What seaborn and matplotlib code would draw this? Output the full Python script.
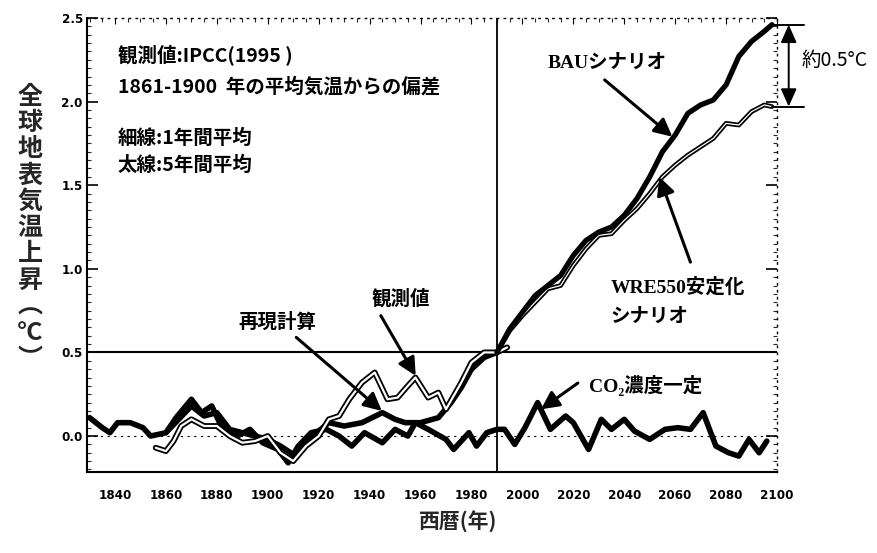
import matplotlib
matplotlib.use("Agg")
import matplotlib.pyplot as plt
import matplotlib.ticker as mticker
import numpy as np
import pandas as pd
import seaborn as sns

# ---- data: global surface temperature rise (deg C, relative to 1861-1900 mean) ----
obs_years = [1856, 1860, 1863, 1866, 1870, 1875, 1880, 1885, 1890, 1895, 1900, 1905,
             1910, 1915, 1920, 1924, 1928, 1932, 1937, 1942, 1947, 1951, 1955, 1958,
             1963, 1967, 1970, 1976, 1980, 1985, 1990, 1994]
obs_vals = [-0.07, -0.09, -0.03, 0.06, 0.10, 0.06, 0.06, 0.00, -0.04, -0.03, 0.00, -0.10,
            -0.15, -0.06, 0.00, 0.10, 0.12, 0.22, 0.32, 0.38, 0.22, 0.23, 0.30, 0.35,
            0.23, 0.26, 0.16, 0.32, 0.44, 0.50, 0.50, 0.53]

repro_years = [1860, 1865, 1870, 1875, 1880, 1885, 1890, 1895, 1900, 1905, 1910, 1915,
               1920, 1924, 1930, 1937, 1945, 1950, 1954, 1960, 1967, 1972, 1976, 1980,
               1985, 1990]
repro_vals = [0.02, 0.10, 0.18, 0.12, 0.14, 0.04, 0.02, 0.00, -0.02, -0.06, -0.11, -0.02,
              0.03, 0.08, 0.06, 0.08, 0.14, 0.10, 0.08, 0.08, 0.11, 0.20, 0.29, 0.40,
              0.47, 0.50]

ctrl_years = [1830, 1835, 1838, 1841, 1846, 1851, 1854, 1860, 1864, 1870, 1874, 1878,
              1882, 1888, 1893, 1898, 1904, 1908, 1912, 1917, 1923, 1928, 1933, 1938,
              1945, 1950, 1955, 1958, 1963, 1970, 1973, 1979, 1982, 1986, 1990, 1993,
              1997, 2001, 2006, 2011, 2017, 2020, 2026, 2031, 2035, 2040, 2044, 2050,
              2056, 2061, 2066, 2071, 2076, 2081, 2085, 2089, 2093, 2096]
ctrl_vals = [0.11, 0.05, 0.02, 0.08, 0.08, 0.05, 0.00, 0.02, 0.11, 0.22, 0.14, 0.18,
             0.05, 0.00, 0.04, -0.04, -0.08, -0.16, -0.06, 0.02, 0.04, 0.00, -0.06, 0.02,
             -0.04, 0.04, 0.00, 0.08, 0.04, -0.02, -0.08, 0.02, -0.06, 0.02, 0.04, 0.04,
             -0.05, 0.05, 0.20, 0.04, 0.12, 0.08, -0.08, 0.10, 0.04, 0.10, 0.03, -0.02,
             0.04, 0.05, 0.04, 0.14, -0.06, -0.10, -0.12, -0.02, -0.10, -0.03]

bau_years = [1990, 1995, 2000, 2005, 2010, 2015, 2020, 2025, 2030, 2035, 2040, 2045,
             2050, 2055, 2060, 2065, 2070, 2075, 2080, 2085, 2090, 2095, 2098]
bau_vals = [0.50, 0.64, 0.74, 0.84, 0.90, 0.96, 1.08, 1.17, 1.22, 1.25, 1.32, 1.42,
            1.55, 1.70, 1.80, 1.93, 1.98, 2.01, 2.10, 2.27, 2.36, 2.42, 2.46]

wre_years = [1990, 1995, 2000, 2005, 2010, 2015, 2020, 2025, 2030, 2035, 2040, 2045,
             2050, 2055, 2060, 2065, 2070, 2075, 2080, 2085, 2090, 2095, 2098]
wre_vals = [0.50, 0.63, 0.72, 0.80, 0.88, 0.90, 1.02, 1.12, 1.20, 1.21, 1.29, 1.36,
            1.45, 1.55, 1.62, 1.68, 1.73, 1.78, 1.87, 1.86, 1.94, 1.98, 1.97]

x_ticks = [1840, 1860, 1880, 1900, 1920, 1940, 1960, 1980, 2000, 2020, 2040, 2060, 2080, 2100]
y_ticks = [0.0, 0.5, 1.0, 1.5, 2.0, 2.5]

# ---- style ----
sns.set_theme(style="white")
JP = ['Noto Sans CJK JP', 'DejaVu Sans']
NARROW_JP = ['Liberation Sans Narrow', 'Noto Sans CJK JP', 'DejaVu Sans']
SERIF_JP = ['Liberation Serif', 'DejaVu Serif', 'Noto Sans CJK JP']
plt.rcParams['font.family'] = JP
plt.rcParams['axes.unicode_minus'] = False

fig = plt.figure(figsize=(8.78, 5.53), dpi=100)
ax = fig.add_axes([87 / 878, 1 - 472 / 553, 690 / 878, 454 / 553])

def draw(years, vals, lw, z, hollow=0.0):
    df = pd.DataFrame({"year": years, "value": vals})
    sns.lineplot(data=df, x="year", y="value", color="black", linewidth=lw,
                 estimator=None, sort=False, ax=ax, zorder=z)
    if hollow:
        sns.lineplot(data=df, x="year", y="value", color="white", linewidth=hollow,
                     estimator=None, sort=False, ax=ax, zorder=z + 0.1)

draw(ctrl_years, ctrl_vals, 4.0, 3)
draw(repro_years, repro_vals, 4.0, 3)
draw(obs_years, obs_vals, 4.2, 4, hollow=1.6)
draw(wre_years, wre_vals, 3.4, 4, hollow=0.9)
draw(bau_years, bau_vals, 3.8, 5)

# reference lines
ax.axhline(0.5, color="black", lw=1.5, zorder=2)
ax.axvline(1990, color="black", lw=1.3, zorder=2)
ax.axhline(0.0, color="black", lw=0.8, ls=(0, (2, 4)), zorder=1)

ax.set_xlim(1829, 2099.5)
ax.set_ylim(-0.215, 2.5)
ax.set_xlabel("")
ax.set_ylabel("")

tick_font = dict(family="DejaVu Sans", fontstretch="condensed", fontsize=9.5, fontweight="bold")
ax.set_xticks(x_ticks)
ax.set_xticklabels([str(t) for t in x_ticks], **tick_font)
ax.set_yticks(y_ticks)
ax.set_yticklabels([f"{t:.1f}" for t in y_ticks], **tick_font)
ax.yaxis.set_minor_locator(mticker.MultipleLocator(0.05))
ax.xaxis.set_minor_locator(mticker.MultipleLocator(5))
ax.tick_params(axis="y", which="major", direction="in", length=8, width=1.2, left=True,
               right=True, pad=3, colors="black")
ax.tick_params(axis="y", which="minor", direction="in", length=3, width=0.8, left=True, right=True)
ax.tick_params(axis="x", which="major", direction="in", length=4, width=0.8, bottom=False,
               top=True, pad=12, colors="black")
ax.tick_params(axis="x", which="minor", direction="in", length=3, width=0.8, bottom=False, top=True)

for side in ["left", "bottom"]:
    ax.spines[side].set_color("black")
    ax.spines[side].set_linewidth(1.5)
for side in ["top", "right"]:
    ax.spines[side].set_color("black")
    ax.spines[side].set_linewidth(1.0)
    ax.spines[side].set_linestyle((0, (1, 4)))

# explanatory block
txt = dict(family=NARROW_JP, fontsize=14, fontweight="bold", color="black", va="center", ha="left")
ax.text(1841.2, 2.28, "観測値:IPCC(1995 )", **txt)
ax.text(1841.2, 2.09, "1861-1900  年の平均気温からの偏差", **txt)
ax.text(1841.2, 1.78, "細線:1年間平均", **txt)
ax.text(1841.2, 1.62, "太線:5年間平均", **txt)

arrow = dict(arrowstyle="-|>,head_length=0.9,head_width=0.45", color="black", lw=2.2,
             shrinkA=0, shrinkB=0)

def pointer(start, tip):
    ax.annotate("", xy=tip, xytext=start, arrowprops=arrow, zorder=6)

lab = dict(fontsize=14, fontweight="bold", color="black", va="center")
ax.text(1952.2, 0.82, "観測値", ha="center", family=JP, **lab)
pointer((1944.4, 0.72), (1958.1, 0.36))

ax.text(1903.7, 0.68, "再現計算", ha="center", family=JP, **lab)
pointer((1911.2, 0.59), (1944.8, 0.15))

ax.text(2033.5, 2.23, "BAUシナリオ", ha="center", family=SERIF_JP, **lab)
pointer((2032.3, 2.13), (2058.9, 1.79))

ax.text(2034.7, 0.89, "WRE550安定化", ha="left", family=SERIF_JP, **lab)
ax.text(2034.7, 0.71, "シナリオ", ha="left", family=SERIF_JP, **lab)
pointer((2066.0, 1.04), (2053.8, 1.55))

ax.text(2048.4, 0.305, "CO₂濃度一定", ha="center", family=SERIF_JP, **lab)
pointer((2021.8, 0.317), (2007.3, 0.16))

# bracket showing the gap between the two scenarios in 2100
top_v, low_v = bau_vals[-1], wre_vals[-1]
for v in (top_v, low_v):
    ax.plot([2098, 2110.5], [v, v], color="black", lw=1.4, clip_on=False, zorder=6)
ax.annotate("", xy=(2104.6, top_v), xytext=(2104.6, low_v),
            arrowprops=dict(arrowstyle="<|-|>,head_length=0.9,head_width=0.4", color="black",
                            lw=1.4, shrinkA=0, shrinkB=0), annotation_clip=False)
ax.text(2109.5, (top_v + low_v) / 2 + 0.03, "約0.5°C", ha="left", va="center",
        fontsize=14, family=JP, color="black", clip_on=False)

# axis titles
fig.text(30 / 878, 1 - 228 / 553, "\n".join(list("全球地表気温上昇") + ["︵", "°C", "︶"]),
         ha="center", va="center", fontsize=18, fontweight="bold", family=JP,
         linespacing=1.12)
fig.text(458 / 878, 1 - 522 / 553, "西暦(年)", ha="center", va="center", fontsize=15,
         fontweight="bold", family=JP)

fig.savefig("out.png", dpi=100, facecolor="white")
